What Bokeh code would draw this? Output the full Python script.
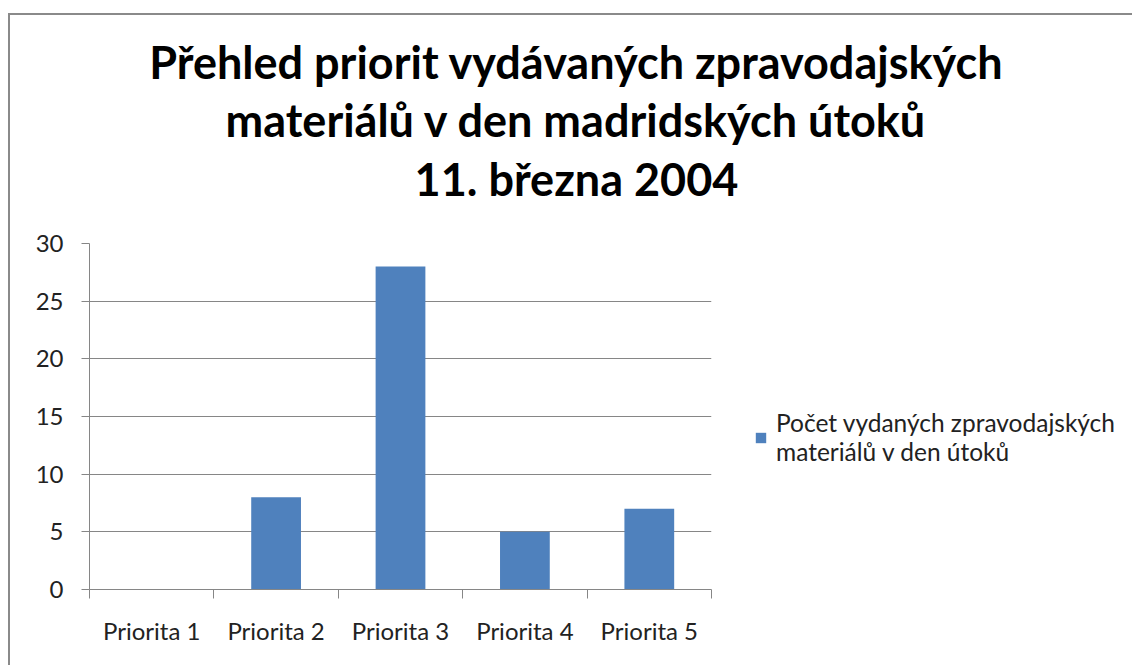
from bokeh.plotting import figure
from bokeh.layouts import column
from bokeh.core.properties import value
from bokeh.models import (FixedTicker, Legend, LegendItem, Range1d, ColumnDataSource)
from bokeh.embed import file_html
from bokeh.resources import INLINE

categories = ["Priorita 1", "Priorita 2", "Priorita 3", "Priorita 4", "Priorita 5"]
values = [0, 8, 28, 5, 7]
y_ticks = [0, 5, 10, 15, 20, 25, 30]
series_name = "Počet vydaných zpravodajských\nmateriálů v den útoků"
title_lines = ["Přehled priorit vydávaných zpravodajských",
               "materiálů v den madridských útoků",
               "11. března 2004"]

FONT = "Lato"
x_pos = [i + 1 for i in range(len(categories))]
source = ColumnDataSource(dict(x=x_pos, top=values, cat=categories))

# ---- title strip: a pixel-scaled figure holding the three centred title lines ----
# (its frame is aligned by the column with the chart's frame)
TW, TH = 1030, 208
t = figure(frame_width=TW, frame_height=TH, output_backend="svg", toolbar_location=None,
           x_range=Range1d(0, TW), y_range=Range1d(TH, 0),
           x_axis_location=None, y_axis_location=None, min_border=0)
t.outline_line_color = None
t.xgrid.grid_line_color = None
t.ygrid.grid_line_color = None
title_src = ColumnDataSource(dict(
    text=title_lines,
    x=[487] * len(title_lines),
    y=[46 + 58.5 * i for i in range(len(title_lines))],
))
t.text(x="x", y="y", text="text", source=title_src, text_align="center",
       text_baseline="alphabetic", text_font=value(FONT), text_font_size="45px",
       text_font_style="bold", text_color="#000000")

# ---- chart ----
p = figure(frame_width=622, frame_height=346, output_backend="svg", toolbar_location=None,
           x_range=Range1d(0.5, len(categories) + 0.5), y_range=Range1d(0, 30),
           min_border_left=79, min_border_right=10, min_border_top=20, min_border_bottom=76)
p.outline_line_color = None

r = p.vbar(x="x", top="top", width=0.4, source=source, fill_color="#4F81BD", line_color=None)

xa = p.xaxis[0]
xa.ticker = FixedTicker(ticks=x_pos, minor_ticks=[i + 0.5 for i in range(len(categories) + 1)])
xa.major_label_overrides = {x: c for x, c in zip(x_pos, categories)}
xa.major_tick_in = 0
xa.major_tick_out = 0
xa.minor_tick_in = 0
xa.minor_tick_out = 9
xa.minor_tick_line_color = "#868686"
xa.axis_line_color = "#868686"
xa.major_label_text_font = FONT
xa.major_label_text_font_size = "24px"
xa.major_label_text_color = "#222222"
xa.major_label_standoff = 17

ya = p.yaxis[0]
ya.ticker = FixedTicker(ticks=y_ticks, minor_ticks=[])
ya.major_tick_in = 0
ya.major_tick_out = 8
ya.major_tick_line_color = "#868686"
ya.axis_line_color = "#868686"
ya.major_label_text_font = FONT
ya.major_label_text_font_size = "24px"
ya.major_label_text_color = "#222222"
ya.major_label_standoff = 18

p.xgrid.grid_line_color = None
p.ygrid.ticker = FixedTicker(ticks=y_ticks)
p.ygrid.grid_line_color = "#868686"

legend = Legend(items=[LegendItem(label=series_name, renderers=[r])],
                location=(43, 123), border_line_color=None, background_fill_alpha=0,
                label_text_font=FONT, label_text_font_size="24.5px", label_text_color="#222222",
                label_text_line_height=1.25,
                glyph_width=13, glyph_height=13, label_standoff=9, padding=0, margin=0)
p.add_layout(legend, "right")

layout = column(t, p, spacing=0)
layout.styles = {"border-top": "2px solid #8a8a8a", "border-left": "2px solid #8a8a8a",
                 "margin-left": "8px", "margin-top": "13px"}

open("out.html", "w").write(file_html(layout, INLINE))
